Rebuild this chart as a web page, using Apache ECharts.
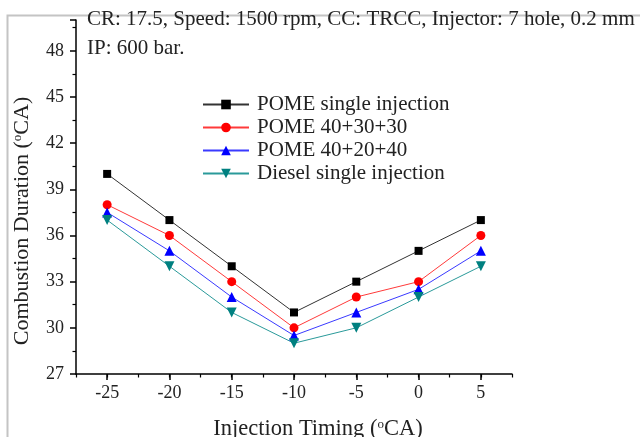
<!DOCTYPE html>
<html>
<head>
<meta charset="utf-8">
<script src="https://cdn.jsdelivr.net/npm/echarts@6/dist/echarts.min.js"></script>
<style>
  html, body { margin: 0; padding: 0; background: #fff; }
  #chart { width: 640px; height: 437px; }
</style>
</head>
<body>
<div id="chart"></div>
<script>
// Injection timing (°CA)
const timings = [-25, -20, -15, -10, -5, 0, 5];

// Combustion duration (°CA) for each fuel / injection strategy
const pomeSingle = [40, 37, 34, 31, 33, 35, 37];
const pome403030 = [38, 36, 33, 30, 32, 33, 36];
const pome402040 = [37.5, 35, 32, 29.5, 31, 32.5, 35];
const dieselSingle = [37, 34, 31, 29, 30, 32, 34];

const seriesNames = [
  'POME single injection',
  'POME 40+30+30',
  'POME 40+20+40',
  'Diesel single injection'
];

// Major tick positions (labelled)
const xMajorTicks = [-25, -20, -15, -10, -5, 0, 5];

const X_MIN = -27.5, X_MAX = 7.5, X_STEP = 2.5;

const conditionsLine1 = 'CR: 17.5, Speed: 1500 rpm, CC: TRCC, Injector: 7 hole, 0.2 mm';
const conditionsLine2 = 'IP: 600 bar.';

const SERIF = '"Liberation Serif", "DejaVu Serif", serif';
const TXT = '#222';

// tick slots along the x range, used by the overlay axis that draws the long ticks
const xTickSlots = [];
for (let v = X_MIN; v <= X_MAX + 1e-9; v += X_STEP) xTickSlots.push(String(v));

function pairs(vals) {
  return timings.map((t, i) => [t, vals[i]]);
}

function lineSeries(name, vals, markerColor, lineColor, symbol, size, rotate) {
  return {
    name: name,
    type: 'line',
    data: pairs(vals),
    symbol: symbol,
    symbolSize: size,
    symbolRotate: rotate || 0,
    itemStyle: { color: markerColor },
    lineStyle: { color: lineColor, width: 1 },
    emphasis: { disabled: true },
    z: 3
  };
}

function titleRich(size) {
  return {
    t: { fontFamily: SERIF, fontSize: size, color: TXT },
    s: { fontFamily: SERIF, fontSize: 13, color: TXT, verticalAlign: 'top', padding: [0, 0, 10, 0] }
  };
}

const chart = echarts.init(document.getElementById('chart'), null, { renderer: 'canvas' });

chart.setOption({
  animation: false,
  backgroundColor: '#fff',
  grid: { left: 76, right: 128, top: 20, bottom: 63, containLabel: false, outerBoundsMode: 'none' },
  legend: {
    orient: 'vertical',
    left: 197,
    top: 89,
    itemWidth: 46,
    itemHeight: 12,
    itemGap: 2,
    data: seriesNames,
    textStyle: { fontFamily: SERIF, fontSize: 21, color: TXT, padding: [0, 0, 0, 3] }
  },
  xAxis: [
    {
      type: 'value',
      min: X_MIN,
      max: X_MAX,
      interval: X_STEP,
      axisLine: { show: true, onZero: false, lineStyle: { color: '#000', width: 1.5 } },
      splitLine: { show: false },
      axisTick: { show: true, length: 3.5, lineStyle: { color: '#000', width: 1.2 } },
      axisLabel: {
        fontFamily: SERIF, fontSize: 18, color: TXT, margin: 10,
        formatter: v => (xMajorTicks.indexOf(v) >= 0 ? String(v) : '')
      },
      name: '{t|Injection Timing (}{s|o}{t|CA)}',
      nameLocation: 'middle',
      nameGap: 44,
      nameTextStyle: { rich: titleRich(22.5), padding: [0, 0, 0, 48] }
    },
    {
      // longer marks at the labelled timings
      type: 'category',
      data: xTickSlots,
      boundaryGap: false,
      position: 'bottom',
      axisLine: { show: false, onZero: false },
      splitLine: { show: false },
      axisLabel: { show: false },
      axisTick: {
        show: true,
        length: 6,
        interval: (i, v) => xMajorTicks.indexOf(Number(v)) >= 0,
        lineStyle: { color: '#000', width: 1.5 }
      }
    }
  ],
  yAxis: {
    type: 'value',
    min: 27,
    max: 50,
    interval: 3,
    axisLine: { show: true, onZero: false, lineStyle: { color: '#000', width: 1.5 } },
    splitLine: { show: false },
    axisTick: { show: true, length: 6, lineStyle: { color: '#000', width: 1.5 } },
    minorTick: { show: true, splitNumber: 2, length: 3.5, lineStyle: { color: '#000', width: 1.2 } },
    minorSplitLine: { show: false },
    axisLabel: {
      fontFamily: SERIF, fontSize: 18, color: TXT, margin: 12,
      showMaxLabel: false,
      formatter: v => (v % 3 === 0 ? String(v) : '')
    },
    name: '{t|Combustion Duration (}{s|o}{t|CA)}',
    nameLocation: 'middle',
    nameGap: 42,
    nameRotate: 90,
    nameTextStyle: { rich: titleRich(22), padding: [0, 48, 0, 0] }
  },
  graphic: [
    {
      type: 'rect',
      left: 5, top: 13,
      shape: { width: 700, height: 500 },
      style: { fill: 'none', stroke: '#c4c4c4', lineWidth: 2 },
      z: -1
    },
    {
      type: 'text',
      left: 87, top: 9,
      style: { text: conditionsLine1, font: '21px ' + SERIF, fill: TXT }
    },
    {
      type: 'text',
      left: 87, top: 38,
      style: { text: conditionsLine2, font: '21px ' + SERIF, fill: TXT }
    }
  ],
  series: [
    lineSeries(seriesNames[0], pomeSingle, '#000000', '#333333', 'rect', 8),
    lineSeries(seriesNames[1], pome403030, '#ff0000', '#ff3a3a', 'circle', 9),
    lineSeries(seriesNames[2], pome402040, '#0000ff', '#3a3aff', 'triangle', 10),
    lineSeries(seriesNames[3], dieselSingle, '#008080', '#2a9a9a', 'triangle', 10, 180)
  ]
});
</script>
</body>
</html>
